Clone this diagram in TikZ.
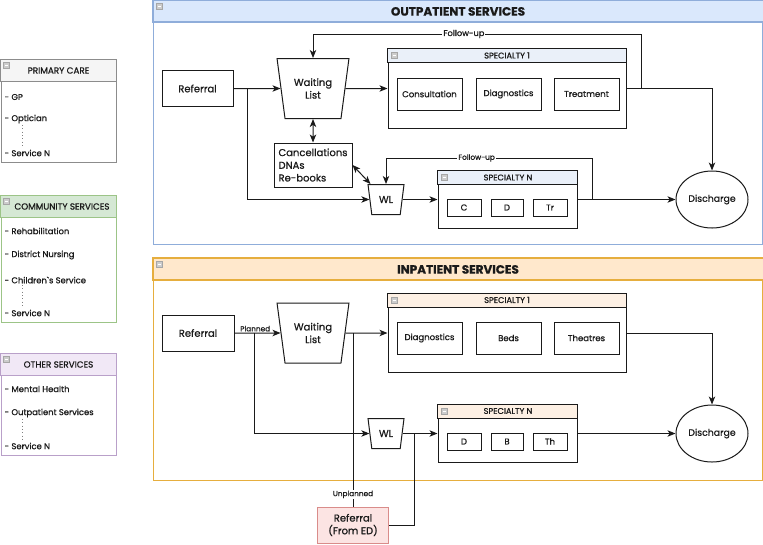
\documentclass[tikz,border=0pt]{standalone}
\usepackage{fontspec}
\setmainfont{Poppins}[FakeBold=0.8]
\usetikzlibrary{shapes.geometric,arrows.meta,calc}

\definecolor{ink}{HTML}{1A1A1A}
\definecolor{opfill}{HTML}{DAE8FC}
\definecolor{opline}{HTML}{8FADDA}
\definecolor{ophead}{HTML}{EAF0F9}
\definecolor{ipfill}{HTML}{FFE8CC}
\definecolor{ipline}{HTML}{E6AE3E}
\definecolor{iphead}{HTML}{FDF0E4}
\definecolor{pcfill}{HTML}{F5F5F5}
\definecolor{pcline}{HTML}{8C8C8C}
\definecolor{csfill}{HTML}{D5E8D4}
\definecolor{csline}{HTML}{9CC487}
\definecolor{osfill}{HTML}{F1E8F6}
\definecolor{osline}{HTML}{B9A0C9}
\definecolor{edfill}{HTML}{FCE4E3}
\definecolor{edline}{HTML}{D98C8A}

\begin{document}
\begin{tikzpicture}[x=0.75pt,y=0.75pt,yscale=-1,xscale=1,
  boxsize/.style 2 args={minimum width=#1*0.75pt,minimum height=#2*0.75pt},
  secbox/.style={draw,line width=0.9pt,fill=white,inner sep=0pt},
  procbox/.style={draw=ink,line width=0.75pt,fill=white,inner sep=0pt,text=ink,align=center,font=\fontsize{7.5}{9.5}\selectfont},
  itembox/.style={draw=ink,line width=0.75pt,fill=white,inner sep=0pt,text=ink,font=\fontsize{6.4}{7.5}\selectfont},
  specbox/.style={draw=ink,line width=0.75pt,fill=white,inner sep=0pt},
  wlbox/.style={trapezium,shape border rotate=180,trapezium stretches=true,trapezium angle=75,draw=ink,line width=0.75pt,fill=white,inner sep=0pt,align=center,text=ink,font=\fontsize{7.5}{9.5}\selectfont},
  endbox/.style={ellipse,draw=ink,line width=0.75pt,fill=white,inner sep=0pt,text=ink,font=\fontsize{7}{8}\selectfont},
  sectitle/.style={text=ink,font=\bfseries\fontsize{9}{10.5}\selectfont},
  spectitle/.style={text=ink,font=\fontsize{6.2}{7}\selectfont},
  paneltitle/.style={text=ink,font=\fontsize{6.6}{7.5}\selectfont},
  paneltext/.style={anchor=west,inner sep=1pt,text=ink,font=\fontsize{6.3}{7}\selectfont},
  lbl/.style={fill=white,inner sep=0.8pt,text=ink,font=\fontsize{5.5}{6.5}\selectfont},
  minusbox/.style={draw=gray!70,fill=gray!40,minimum size=4.2pt,inner sep=0pt,
    path picture={\draw[white,line width=0.6pt] ([xshift=0.8pt]path picture bounding box.west) -- ([xshift=-0.8pt]path picture bounding box.east);}},
  conn/.style={draw=ink,line width=0.75pt},
  arr/.style={conn,-{Stealth[length=6pt,width=4.8pt,inset=1.6pt]}},
  dblarr/.style={conn,{Stealth[length=6pt,width=4.8pt,inset=1.6pt]}-{Stealth[length=6pt,width=4.8pt,inset=1.6pt]}},
  vdots/.style={draw=gray,line width=0.5pt,dotted}]

\useasboundingbox (0,0) rectangle (763,544);

%Shape: Primary care panel
\node[secbox,draw=pcline,line width=0.75pt,boxsize={115}{102}] (pcare) at (58.5,111) {};
\draw[draw=pcline,fill=pcfill,line width=0.75pt] (pcare.north west) rectangle ($(pcare.north east)+(0,22)$);
\node[paneltitle] (pcaret) at ($(pcare.north)+(0,11)$) {PRIMARY CARE};
\node[minusbox] at ($(pcare.north west)+(6,6)$) {};
% Text Node
\node[paneltext] (pgp) at (3,97) {- GP};
\node[paneltext] (popt) at (3,119) {- Optician};
\node[paneltext] (psvc) at (3,153) {- Service N};
\draw[vdots] ($(popt.south west)+(19,0)$) -- ($(psvc.north west)+(19,0)$);

%Shape: Community services panel
\node[secbox,draw=csline,line width=0.75pt,boxsize={115}{126}] (comm) at (58.5,259) {};
\draw[draw=csline,fill=csfill,line width=0.75pt] (comm.north west) rectangle ($(comm.north east)+(0,22)$);
\node[paneltitle] (commt) at ($(comm.north)+(3.5,11)$) {COMMUNITY SERVICES};
\node[minusbox] at ($(comm.north west)+(6,6)$) {};
% Text Node
\node[paneltext] (crehab) at (3,231) {- Rehabilitation};
\node[paneltext] (cdist) at (3,255) {- District Nursing};
\node[paneltext] (cchild) at (3,280) {- Children\textasciigrave s Service};
\node[paneltext] (csvc) at (3,313) {- Service N};
\draw[vdots] ($(cchild.south west)+(19,0)$) -- ($(csvc.north west)+(19,0)$);

%Shape: Other services panel
\node[secbox,draw=osline,line width=0.75pt,boxsize={115}{101}] (oth) at (58.5,404.5) {};
\draw[draw=osline,fill=osfill,line width=0.75pt] (oth.north west) rectangle ($(oth.north east)+(0,22)$);
\node[paneltitle] (otht) at ($(oth.north)+(0,11)$) {OTHER SERVICES};
\node[minusbox] at ($(oth.north west)+(6,6)$) {};
% Text Node
\node[paneltext] (omh) at (3,389) {- Mental Health};
\node[paneltext] (oops) at (3,413) {- Outpatient Services};
\node[paneltext] (osvc) at (3,446) {- Service N};
\draw[vdots] ($(oops.south west)+(19,0)$) -- ($(osvc.north west)+(19,0)$);

%Shape: Outpatient container
\node[secbox,draw=opline,boxsize={609}{244}] (outp) at (458,122.5) {};
\draw[draw=opline,fill=opfill,line width=0.9pt] (outp.north west) rectangle ($(outp.north east)+(0,22)$);
\node[sectitle] (outpt) at ($(outp.north)+(0,11.5)$) {OUTPATIENT SERVICES};
\node[minusbox] at ($(outp.north west)+(6.5,6.5)$) {};

\node[procbox,boxsize={71}{36}] (oref) at (197.5,88.5) {Referral};
\node[wlbox,boxsize={72}{60}] (owl) at (313,88.5) {Waiting\\List};
\node[procbox,boxsize={78}{44},align=left] (ocanc) at (313,165) {Cancellations\\DNAs\\Re-books};
\node[wlbox,boxsize={36}{30}] (owln) at (386,199.5) {WL};

%Shape: Specialty 1
\node[specbox,boxsize={238}{79}] (ospec1) at (507,88.5) {};
\draw[draw=ink,fill=ophead,line width=0.75pt] (ospec1.north west) rectangle ($(ospec1.north east)+(0,14)$);
\node[spectitle] at ($(ospec1.north)+(0,7)$) {SPECIALTY 1};
\node[minusbox] at ($(ospec1.north west)+(7,7)$) {};
\node[itembox,boxsize={65}{32}] (ocons) at (429.5,94) {Consultation};
\node[itembox,boxsize={65}{32}] (odiag) at (508.5,94) {Diagnostics};
\node[itembox,boxsize={65}{32}] (otreat) at (586.5,94) {Treatment};

%Shape: Specialty N
\node[specbox,boxsize={139}{57}] (ospecn) at (507.5,199.5) {};
\draw[draw=ink,fill=ophead,line width=0.75pt] (ospecn.north west) rectangle ($(ospecn.north east)+(0,14)$);
\node[spectitle] at ($(ospecn.north)+(0.5,7)$) {SPECIALTY N};
\node[minusbox] at ($(ospecn.north west)+(7,7)$) {};
\node[itembox,boxsize={34}{17}] (oc) at (464,207.5) {C};
\node[itembox,boxsize={32}{17}] (od) at (507,207.5) {D};
\node[itembox,boxsize={34}{17}] (otr) at (550,207.5) {Tr};

\node[endbox,boxsize={72}{57}] (odis) at (712,199.5) {Discharge};

%Straight Lines
\coordinate (obr) at (247,88.5);
\coordinate (ofu1) at (641,34);
\coordinate (ofu2) at (592,158);
\draw[arr] (oref) -- (owl);
\draw[arr] (obr) |- (owln);
\draw[arr] (owl) -- (ospec1);
\draw[dblarr] (owl) -- (ocanc);
\draw[dblarr] (ocanc.east) -- (owln.north west);
\draw[arr] (ospec1.east) -| (ofu1) -| node[lbl,pos=0.27,font=\fontsize{6.2}{7}\selectfont] {Follow-up} (owl.north);
\draw[arr] (ospec1.east) -| (odis.north);
\draw[arr] (owln) -- (ospecn);
\draw[arr] (ospecn.east) -| (ofu2) -| node[lbl,pos=0.28] {Follow-up} (owln.north);
\draw[arr] (ospecn) -- (odis);

%Shape: Inpatient container
\node[secbox,draw=ipline,boxsize={609}{222}] (inp) at (458,369.5) {};
\draw[draw=ipline,fill=ipfill,line width=0.9pt] (inp.north west) rectangle ($(inp.north east)+(0,22)$);
\node[sectitle] (inpt) at ($(inp.north)+(0,11.5)$) {INPATIENT SERVICES};
\node[minusbox] at ($(inp.north west)+(6.5,6.5)$) {};

\node[procbox,boxsize={72}{36}] (iref) at (198,333) {Referral};
\node[wlbox,boxsize={72}{60}] (iwl) at (313,333) {Waiting\\List};
\node[wlbox,boxsize={36}{30}] (iwln) at (386,433.5) {WL};

%Shape: Specialty 1
\node[specbox,boxsize={238}{79}] (ispec1) at (507,333) {};
\draw[draw=ink,fill=iphead,line width=0.75pt] (ispec1.north west) rectangle ($(ispec1.north east)+(0,14)$);
\node[spectitle] at ($(ispec1.north)+(0,7)$) {SPECIALTY 1};
\node[minusbox] at ($(ispec1.north west)+(7,7)$) {};
\node[itembox,boxsize={65}{32}] (idiag) at (429.5,338) {Diagnostics};
\node[itembox,boxsize={65}{32}] (ibeds) at (508.5,338) {Beds};
\node[itembox,boxsize={65}{32}] (itheat) at (586.5,338) {Theatres};

%Shape: Specialty N
\node[specbox,boxsize={139}{58}] (ispecn) at (507.5,433.5) {};
\draw[draw=ink,fill=iphead,line width=0.75pt] (ispecn.north west) rectangle ($(ispecn.north east)+(0,14)$);
\node[spectitle] at ($(ispecn.north)+(0.5,7)$) {SPECIALTY N};
\node[minusbox] at ($(ispecn.north west)+(7,7)$) {};
\node[itembox,boxsize={34}{17}] (id) at (464,441.5) {D};
\node[itembox,boxsize={32}{17}] (ib) at (507,441.5) {B};
\node[itembox,boxsize={34}{17}] (ith) at (550,441.5) {Th};

\node[endbox,boxsize={72}{57}] (idis) at (712,433.5) {Discharge};
\node[procbox,draw=edline,fill=edfill,boxsize={71}{36}] (ied) at (353,525) {Referral\\(From ED)};

%Straight Lines
\coordinate (ibr) at (254,333);
\coordinate (iedj) at (414,433.5);
\draw[arr] (iref) -- node[lbl,above,fill=none,pos=0.45] {Planned} (iwl);
\draw[arr] (ibr) |- (iwln);
\draw[arr] (iwl) -- (ispec1);
\draw[conn] (ied.north) -- node[lbl,pos=0.07] {Unplanned} (ied.north |- iwl);
\draw[conn] (ied.east) -| (iedj);
\draw[arr] (iwln) -- (ispecn);
\draw[arr] (ispec1.east) -| (idis.north);
\draw[arr] (ispecn) -- (idis);

\end{tikzpicture}
\end{document}
